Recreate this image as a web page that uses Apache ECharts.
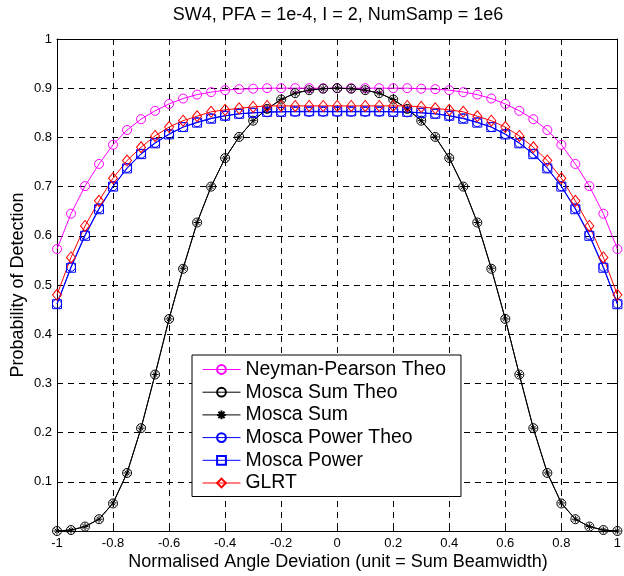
<!DOCTYPE html>
<html>
<head>
<meta charset="utf-8">
<script src="https://cdn.jsdelivr.net/npm/echarts@6/dist/echarts.min.js"></script>
<style>html,body{margin:0;padding:0;background:#fff}#c{width:624px;height:576px}</style>
</head>
<body>
<div id="c"></div>
<script>
const xVals = [-1,-0.95,-0.9,-0.85,-0.8,-0.75,-0.7,-0.65,-0.6,-0.55,-0.5,-0.45,-0.4,-0.35,-0.3,-0.25,-0.2,-0.15,-0.1,-0.05,0,
  0.05,0.1,0.15,0.2,0.25,0.3,0.35,0.4,0.45,0.5,0.55,0.6,0.65,0.7,0.75,0.8,0.85,0.9,0.95,1];
const npTheo = [0.573,0.645,0.701,0.746,0.785,0.815,0.837,0.854,0.868,0.879,0.887,0.892,0.896,0.898,0.899,0.900,0.900,0.900,0.900,0.900,0.900,
  0.900,0.900,0.900,0.900,0.900,0.899,0.898,0.896,0.892,0.887,0.879,0.868,0.854,0.837,0.815,0.785,0.746,0.701,0.645,0.573];
const sumTheo = [0.000,0.002,0.009,0.024,0.056,0.118,0.209,0.318,0.431,0.533,0.627,0.700,0.758,0.801,0.834,0.858,0.877,0.890,0.896,0.899,0.900,
  0.899,0.896,0.890,0.877,0.858,0.834,0.801,0.758,0.700,0.627,0.533,0.431,0.318,0.209,0.118,0.056,0.024,0.009,0.002,0.000];
const sumSim = [0.000,0.002,0.009,0.024,0.057,0.118,0.209,0.318,0.431,0.534,0.627,0.700,0.758,0.801,0.834,0.858,0.877,0.890,0.896,0.899,0.900,
  0.899,0.896,0.890,0.877,0.858,0.834,0.801,0.758,0.700,0.627,0.534,0.431,0.318,0.209,0.118,0.057,0.024,0.009,0.002,0.000];
const powTheo = [0.462,0.537,0.602,0.656,0.701,0.738,0.767,0.789,0.807,0.821,0.831,0.839,0.844,0.848,0.850,0.851,0.852,0.852,0.852,0.852,0.852,
  0.852,0.852,0.852,0.852,0.851,0.850,0.848,0.844,0.839,0.831,0.821,0.807,0.789,0.767,0.738,0.701,0.656,0.602,0.537,0.462];
const powSim = [0.461,0.535,0.600,0.654,0.700,0.737,0.766,0.788,0.806,0.821,0.830,0.838,0.844,0.848,0.850,0.852,0.852,0.853,0.853,0.853,0.853,
  0.853,0.853,0.853,0.852,0.852,0.850,0.848,0.844,0.838,0.830,0.821,0.806,0.788,0.766,0.737,0.700,0.654,0.600,0.535,0.461];
const glrt = [0.480,0.556,0.620,0.671,0.717,0.753,0.780,0.803,0.821,0.834,0.843,0.852,0.856,0.859,0.862,0.864,0.864,0.864,0.864,0.864,0.864,
  0.864,0.864,0.864,0.864,0.864,0.862,0.859,0.856,0.852,0.843,0.834,0.821,0.803,0.780,0.753,0.717,0.671,0.620,0.556,0.480];

const titleText = 'SW4, PFA = 1e-4, I = 2, NumSamp = 1e6';
const xName = 'Normalised Angle Deviation (unit = Sum Beamwidth)';
const yName = 'Probability of Detection';

const FONT = '"Liberation Sans", Arial, Helvetica, sans-serif';
const pair = arr => xVals.map((x, i) => [x, arr[i]]);
const asterisk = 'path://M0,-10L0,10M-10,0L10,0M-7,-7L7,7M-7,7L7,-7';

function mk(name, data, color, symbol, size) {
  return {
    name, type: 'line', data: pair(data), symbol, symbolSize: size,
    lineStyle: { color, width: 1 },
    itemStyle: { color: 'rgba(0,0,0,0)', borderColor: color, borderWidth: 1 },
    emphasis: { disabled: true }, animation: false, z: 3
  };
}

const chart = echarts.init(document.getElementById('c'), null, { renderer: 'canvas' });
const axisCommon = { type: 'value', min: -1, max: 1, interval: 0.2 };
chart.setOption({
  backgroundColor: '#fff',
  animation: false,
  textStyle: { fontFamily: FONT },
  grid: { left: 57, right: 5, top: 39, bottom: 45, containLabel: false },
  graphic: [
    { type: 'text', x: 338, y: 15, style: { text: titleText, align: 'center', verticalAlign: 'middle', font: '18px ' + FONT, fill: '#000' } },
    { type: 'text', x: 338, y: 562, style: { text: xName, align: 'center', verticalAlign: 'middle', font: '18px ' + FONT, fill: '#000' } },
    { type: 'text', x: 18, y: 285, rotation: Math.PI / 2, style: { text: yName, align: 'center', verticalAlign: 'middle', font: '18px ' + FONT, fill: '#000' } }
  ],
  xAxis: [
    Object.assign({}, axisCommon, {
      position: 'bottom',
      axisLine: { onZero: false, lineStyle: { color: '#000', width: 1 } },
      axisTick: { inside: true, length: 5, lineStyle: { color: '#000' } },
      axisLabel: { color: '#000', fontSize: 13, margin: 6, fontFamily: FONT, formatter: v => String(Math.round(v * 10) / 10) },
      splitLine: { show: true, lineStyle: { color: '#000', type: [6, 5], width: 1 } }
    }),
    Object.assign({}, axisCommon, {
      position: 'top',
      axisLine: { onZero: false, lineStyle: { color: '#000', width: 1 } },
      axisTick: { inside: true, length: 5, lineStyle: { color: '#000' } },
      axisLabel: { show: false }, splitLine: { show: false }
    })
  ],
  yAxis: [
    {
      type: 'value', min: 0, max: 1, interval: 0.1, position: 'left',
      axisLine: { show: true, onZero: false, lineStyle: { color: '#000', width: 1 } },
      axisTick: { show: true, inside: true, length: 5, lineStyle: { color: '#000' } },
      axisLabel: { color: '#000', fontSize: 13, margin: 5, fontFamily: FONT,
        formatter: v => (Math.abs(v) < 1e-9 ? '' : String(Math.round(v * 10) / 10)) },
      splitLine: { show: true, lineStyle: { color: '#000', type: [6, 5], width: 1 } }
    },
    {
      type: 'value', min: 0, max: 1, interval: 0.1, position: 'right',
      axisLine: { show: true, onZero: false, lineStyle: { color: '#000', width: 1 } },
      axisTick: { show: true, inside: true, length: 5, lineStyle: { color: '#000' } },
      axisLabel: { show: false }, splitLine: { show: false }
    }
  ],
  legend: {
    orient: 'vertical', left: 192, top: 355,
    backgroundColor: '#fff', borderColor: '#000', borderWidth: 1, borderRadius: 0,
    padding: [5, 15, 4, 10],
    itemWidth: 38, itemHeight: 11, itemGap: 3.7, itemTextGap: 17,
    lineStyle: { width: 1 },
    textStyle: { fontSize: 19.4, lineHeight: 19, color: '#000', fontFamily: FONT },
    selectedMode: false,
    data: ['Neyman-Pearson Theo', 'Mosca Sum Theo', 'Mosca Sum', 'Mosca Power Theo', 'Mosca Power', 'GLRT']
  },
  series: [
    mk('Neyman-Pearson Theo', npTheo, '#ff00ff', 'circle', 9),
    mk('Mosca Sum Theo', sumTheo, '#000000', 'circle', 9),
    mk('Mosca Sum', sumSim, '#000000', asterisk, 7),
    mk('Mosca Power Theo', powTheo, '#0000ff', 'circle', 9),
    mk('Mosca Power', powSim, '#0000ff', 'rect', 9),
    mk('GLRT', glrt, '#ff0000', 'diamond', [9, 11])
  ]
});
</script>
</body>
</html>
